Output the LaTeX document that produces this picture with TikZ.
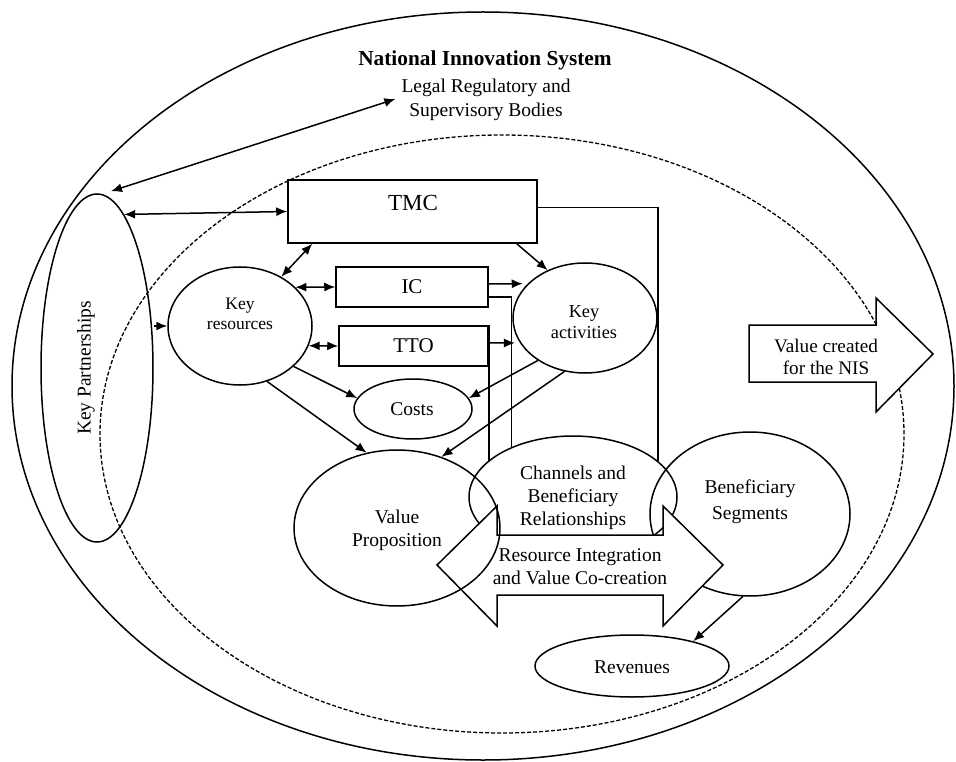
\documentclass[tikz,border=0pt]{standalone}
\usepackage{fontspec}
\setmainfont{Liberation Serif}
\usetikzlibrary{shapes.geometric,arrows.meta,calc}
\tikzset{
 ln/.style={line width=1.5pt},
 ell/.style={ellipse, draw, line width=1.5pt, inner sep=0pt},
 boxr/.style={rectangle, draw, fill=white, line width=1.5pt, inner sep=0pt},
 tx/.style={font=\fontsize{19.5}{23}\selectfont, align=center, inner sep=0pt},
 bigarrow/.style={draw, fill=white, line width=1.5pt, line join=miter},
 arr/.style={line width=1.5pt, -{Latex[length=11pt,width=9pt]}},
 darr/.style={line width=1.5pt, {Latex[length=11pt,width=9pt]}-{Latex[length=11pt,width=9pt]}},
}
\begin{document}
\begin{tikzpicture}[x=1pt,y=-1pt]
\useasboundingbox (0,0) rectangle (956,762);
% enclosures
\node[ell, minimum width=942pt, minimum height=748pt] (nis) at (483,386) {};
\node[ell, dash pattern=on 4pt off 2pt, line width=1.3pt, minimum width=804pt, minimum height=598pt] (bm) at (502,434) {};
% value created arrow
\path[bigarrow] (749,325) -- (876,325) -- (876,298) -- (933,354) -- (876,412) -- (876,382) -- (749,382) -- cycle;
\node[tx, font=\fontsize{19.2}{22}\selectfont] (vct) at (826,357) {Value created\\for the NIS};
% texts on top
\node[tx, font=\fontsize{21.3}{24}\selectfont\bfseries] (title) at (485,60) {National Innovation System};
\node[tx, font=\fontsize{19.5}{24}\selectfont] (legal) at (486,100) {Legal Regulatory and\\Supervisory Bodies};
% key partnerships
\node[ell, minimum width=112pt, minimum height=348pt] (kp) at (97,368) {};
\node[tx, rotate=90] (kpt) at (86,368) {Key Partnerships};
% boxes
\node[boxr, minimum width=249pt, minimum height=63pt] (tmc) at (412.5,211.5) {};
\node[tx, font=\fontsize{23}{26}\selectfont] (tmct) at (413,203) {TMC};
\node[boxr, minimum width=152pt, minimum height=40pt, font=\fontsize{21}{24}\selectfont] (ic) at (412,287) {IC};
\node[boxr, minimum width=149pt, minimum height=40pt, font=\fontsize{21}{24}\selectfont] (tto) at (413.5,346) {TTO};
% ellipses
\node[ell, minimum width=144pt, minimum height=118pt] (kr) at (240,326) {};
\node[tx, font=\fontsize{17.5}{20}\selectfont] (krt) at (240,314) {Key\\resources};
\node[ell, minimum width=144pt, minimum height=110pt] (ka) at (585,318) {};
\node[tx, font=\fontsize{18.3}{21}\selectfont] (kat) at (584,322) {Key\\activities};
\node[ell, minimum width=118pt, minimum height=60pt] (costs) at (413,409) {};
\node[tx] (costst) at (412,409) {Costs};
\node[ell, minimum width=208pt, minimum height=122pt] (ch) at (573,497) {};
\node[tx] (cht) at (573,498) {Channels and\\Beneficiary\\Relationships};
\node[ell, minimum width=200pt, minimum height=164pt] (bs) at (750,514) {};
\node[tx, font=\fontsize{19.5}{26}\selectfont] (bst) at (750,502) {Beneficiary\\Segments};
\node[ell, minimum width=194pt, minimum height=62pt] (rev) at (632,666) {};
\node[tx] (revt) at (632,667) {Revenues};
% resource integration arrow
\path[bigarrow] (437,565) -- (497,506) -- (497,535) -- (663,535) -- (663,506) -- (723,565) -- (663,626) -- (663,595) -- (497,595) -- (497,626) -- cycle;
\node[tx] (rit) at (580,567) {Resource Integration\\and Value Co-creation};
% value proposition
\node[ell, minimum width=206pt, minimum height=156pt] (vp) at (397,528) {};
\node[tx] (vpt) at (397,530) {Value\\Proposition};
% connectors
\draw[darr] ([shift={(-6,-1)}]legal.west) -- ([shift={(14,-2)}]kp.north);
\draw[darr] (kp.80) -- (tmc.west);
\draw[arr] (kp.east |- kr.west) -- (kr.west);
\draw[darr] ([xshift=25pt]tmc.south west) -- (kr.50);
\draw[arr] ([xshift=-21pt]tmc.south east) -- (ka.128);
\draw[darr] (kr.35) -- (ic.west);
\draw[darr] (kr.-16) -- (tto.west);
\draw[arr, shorten >=5pt] ([yshift=3pt]ic.east) -- (ka.149);
\draw[ln] ([yshift=-10pt]ic.east) -| (ch.141);
\draw[ln] (tto.north east) -- (tto.north east |- ch.158);
\draw[arr, shorten >=5pt] ([yshift=3pt]tto.east) -- (ka.201);
\draw[ln] ([yshift=4pt]tmc.east) -| (ch.23);
\draw[arr] (kr.-37) -- (costs.169);
\draw[arr] (kr.-64) -- (vp.112);
\draw[arr] (ka.222) -- (costs.11);
\draw[arr] (ka.249) -- (vp.58);
\draw[arr] (bs.265) -- (rev.22);
\end{tikzpicture}
\end{document}
